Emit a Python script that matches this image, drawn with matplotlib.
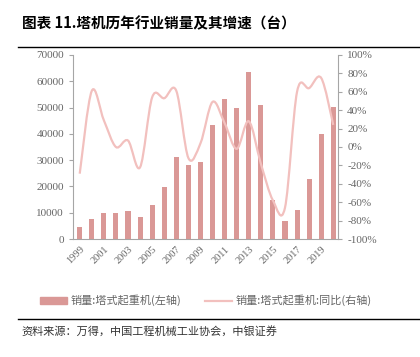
import matplotlib
matplotlib.use('Agg')
import matplotlib.pyplot as plt
from matplotlib.path import Path
from matplotlib.patches import PathPatch
from matplotlib.lines import Line2D
from matplotlib.ticker import FuncFormatter
import numpy as np

plt.rcParams['font.family'] = ['Noto Sans CJK SC', 'DejaVu Sans']

years = list(range(1999, 2021))
sales = [4700, 7700, 9900, 9900, 10500, 8350, 12800, 19600, 31100, 28100, 29300,
         43400, 53200, 49900, 63700, 50800, 14700, 6950, 11100, 23000, 40000, 50100]
yoy = [-29, 61, 29, 0, 7, -22, 54, 53, 61, -12, 4,
       49, 26, -2, 28, -18, -58, -66, 60, 64, 75, 24]
tick_years = list(range(1999, 2020, 2))

title = '图表 11.塔机历年行业销量及其增速（台）'
bar_label = '销量:塔式起重机(左轴)'
line_label = '销量:塔式起重机:同比(右轴)'
source = '资料来源：万得，中国工程机械工业协会，中银证券'

bar_color = '#DA9896'
line_color = '#F2C0BE'
grey = '#666666'
serif = ['Liberation Serif', 'DejaVu Serif']

fig = plt.figure(figsize=(4.2, 3.57), dpi=100)
ax = fig.add_axes([0.174, 0.3305, 0.631, 0.5155])
ax2 = ax.twinx()

x = np.arange(len(years))
ax.bar(x, sales, width=0.42, color=bar_color, zorder=2)
ax.set_xlim(-0.55, len(years) - 0.6)
ax.set_ylim(0, 70000)
ax.set_yticks(range(0, 70001, 10000))
ax2.set_ylim(-100, 100)
ax2.set_yticks(range(-100, 101, 20))
ax2.yaxis.set_major_formatter(FuncFormatter(lambda v, p: '%d%%' % v))

# smoothed line (Catmull-Rom -> cubic bezier) through the yearly points
pts = np.column_stack([x, yoy]).astype(float)
verts = [tuple(pts[0])]
codes = [Path.MOVETO]
for i in range(len(pts) - 1):
    p0 = pts[max(i - 1, 0)]
    p1 = pts[i]
    p2 = pts[i + 1]
    p3 = pts[min(i + 2, len(pts) - 1)]
    c1 = p1 + (p2 - p0) / 6.0
    c2 = p2 - (p3 - p1) / 6.0
    verts += [tuple(c1), tuple(c2), tuple(p2)]
    codes += [Path.CURVE4] * 3
ax2.add_patch(PathPatch(Path(verts, codes), facecolor='none', edgecolor=line_color, lw=1.6, zorder=3))

for a in (ax, ax2):
    a.spines['top'].set_visible(False)
    for s in ('left', 'right', 'bottom'):
        a.spines[s].set_color('#A6A6A6')
        a.spines[s].set_linewidth(0.8)
ax.spines['right'].set_visible(False)
ax2.spines['left'].set_visible(False)
ax2.spines['bottom'].set_visible(False)

ax.set_xticks(x[::2])
ax.set_xticklabels([str(y) for y in tick_years], rotation=45, ha='right',
                   rotation_mode='anchor', family=serif, fontsize=7.5, color=grey)
ax.tick_params(axis='x', length=0, pad=4)
ax.tick_params(axis='y', length=3, color='#A6A6A6', width=0.8, labelsize=8, labelcolor=grey)
ax2.tick_params(axis='y', length=3, color='#A6A6A6', width=0.8, labelsize=8, labelcolor=grey)
for lab in ax.get_yticklabels() + ax2.get_yticklabels():
    lab.set_family(serif)

handles = [plt.Rectangle((0, 0), 1, 1, color=bar_color),
           Line2D([0], [0], color=line_color, lw=1.6)]
fig.legend(handles, [bar_label, line_label], loc='center', bbox_to_anchor=(0.49, 0.158),
           ncol=2, frameon=False, fontsize=8, handlelength=2.4, handleheight=0.6,
           columnspacing=2.2, handletextpad=0.3, labelcolor=grey)

fig.text(0.052, 0.936, title, fontsize=10.5, fontweight='bold', va='center', ha='left')
fig.add_artist(Line2D([0.043, 1.0], [0.867, 0.867], color='black', lw=1.0))
fig.add_artist(Line2D([0.043, 1.0], [0.1065, 0.1065], color='black', lw=1.0))
fig.text(0.052, 0.073, source, fontsize=8, va='center', ha='left', color='#333333', style='italic')

plt.savefig('out.png', dpi=100)
